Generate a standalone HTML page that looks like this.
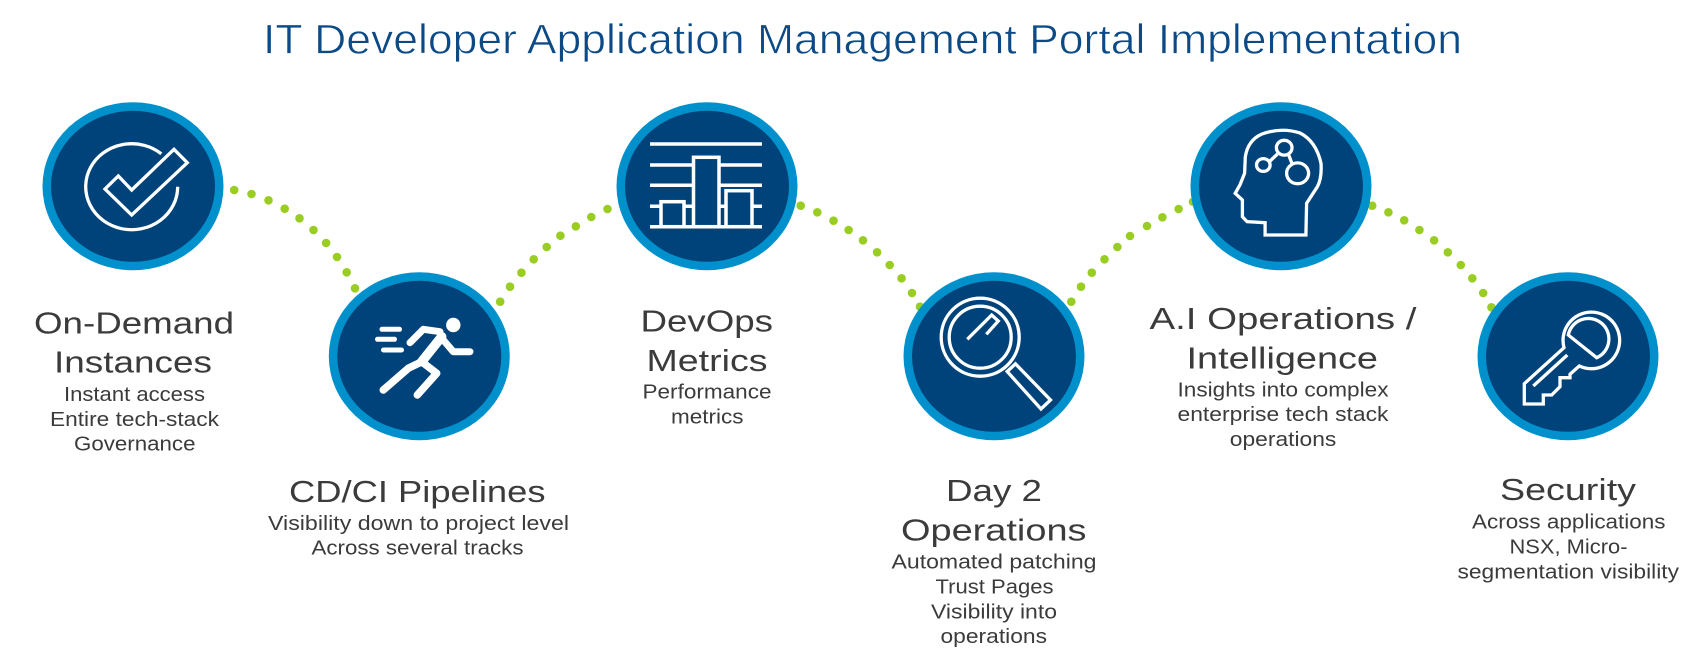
<!DOCTYPE html>
<html>
<head>
<meta charset="utf-8">
<style>
  html, body { margin:0; padding:0; background:#ffffff; }
  body { width:1695px; height:662px; overflow:hidden; }
  svg { display:block; }
  .h { font-family:"Liberation Sans", Arial, sans-serif; font-size:31px; fill:#3b3b3b; }
  .s { font-family:"Liberation Sans", Arial, sans-serif; font-size:20.5px; fill:#3b3b3b; }
  .t { font-family:"Liberation Sans", Arial, sans-serif; font-size:42px; fill:#0b4a86; stroke:#ffffff; stroke-width:0.7; paint-order:normal; }
  .ic { fill:none; stroke:#ffffff; stroke-width:3.3; stroke-linejoin:miter; }
</style>
</head>
<body>
<svg width="1695" height="662" viewBox="0 0 1695 662" xmlns="http://www.w3.org/2000/svg">
  <rect x="0" y="0" width="1695" height="662" fill="#ffffff"/>

  <!-- Title -->
  <text class="t" x="263" y="53.5" textLength="1199" lengthAdjust="spacingAndGlyphs">IT Developer Application Management Portal Implementation</text>

  <!-- Dotted connectors -->
  <g fill="#9acd23">
    <!-- 1-2 -->
    <circle cx="234.2" cy="190" r="4.3"/><circle cx="251.5" cy="194" r="4.3"/><circle cx="268.5" cy="200.3" r="4.3"/>
    <circle cx="284.7" cy="208.7" r="4.3"/><circle cx="299.5" cy="218.3" r="4.3"/><circle cx="313.5" cy="230" r="4.3"/>
    <circle cx="326.1" cy="243" r="4.3"/><circle cx="337" cy="257" r="4.3"/><circle cx="346.7" cy="272.3" r="4.3"/>
    <circle cx="355" cy="288.3" r="4.3"/>
    <!-- 2-3 -->
    <circle cx="500.2" cy="301.7" r="4.3"/><circle cx="510" cy="286.7" r="4.3"/><circle cx="521.4" cy="272.7" r="4.3"/>
    <circle cx="533.7" cy="259.3" r="4.3"/><circle cx="546.7" cy="247" r="4.3"/><circle cx="560.4" cy="235.7" r="4.3"/>
    <circle cx="575.8" cy="226.3" r="4.3"/><circle cx="591.3" cy="217" r="4.3"/><circle cx="607.5" cy="209" r="4.3"/>
    <!-- 3-4 -->
    <circle cx="800.7" cy="205.7" r="4.3"/><circle cx="817.3" cy="212.3" r="4.3"/><circle cx="833.5" cy="220.7" r="4.3"/>
    <circle cx="848.6" cy="230" r="4.3"/><circle cx="863" cy="240.3" r="4.3"/><circle cx="877.1" cy="252.3" r="4.3"/>
    <circle cx="889.7" cy="265" r="4.3"/><circle cx="901.6" cy="278.3" r="4.3"/><circle cx="912" cy="293" r="4.3"/>
    <circle cx="920" cy="306.7" r="4.3"/>
    <!-- 4-5 -->
    <circle cx="1071.3" cy="301.7" r="4.3"/><circle cx="1081" cy="286.7" r="4.3"/><circle cx="1091.8" cy="272.7" r="4.3"/>
    <circle cx="1104.5" cy="259.3" r="4.3"/><circle cx="1117.4" cy="247" r="4.3"/><circle cx="1130" cy="236" r="4.3"/>
    <circle cx="1147" cy="226" r="4.3"/><circle cx="1162.4" cy="217.3" r="4.3"/><circle cx="1178.6" cy="209" r="4.3"/>
    <circle cx="1193" cy="201.7" r="4.3"/>
    <!-- 5-6 -->
    <circle cx="1372.2" cy="205.7" r="4.3"/><circle cx="1388.4" cy="212.3" r="4.3"/><circle cx="1404.2" cy="220.3" r="4.3"/>
    <circle cx="1419.4" cy="230" r="4.3"/><circle cx="1434.1" cy="240.3" r="4.3"/><circle cx="1447.8" cy="252.3" r="4.3"/>
    <circle cx="1460.8" cy="265" r="4.3"/><circle cx="1472.3" cy="278.3" r="4.3"/><circle cx="1483.2" cy="293" r="4.3"/>
    <circle cx="1491.4" cy="307.3" r="4.3"/>
  </g>

  <!-- Circles -->
  <g>
    <ellipse cx="133" cy="186.3" rx="90.5" ry="84" fill="#0091cc"/>
    <ellipse cx="133" cy="186.3" rx="82" ry="75.5" fill="#00437a"/>
    <ellipse cx="419.3" cy="356.3" rx="90.5" ry="84" fill="#0091cc"/>
    <ellipse cx="419.3" cy="356.3" rx="82" ry="75.5" fill="#00437a"/>
    <ellipse cx="707" cy="186.3" rx="90.5" ry="84" fill="#0091cc"/>
    <ellipse cx="707" cy="186.3" rx="82" ry="75.5" fill="#00437a"/>
    <ellipse cx="994" cy="356.3" rx="90.5" ry="84" fill="#0091cc"/>
    <ellipse cx="994" cy="356.3" rx="82" ry="75.5" fill="#00437a"/>
    <ellipse cx="1281" cy="186.3" rx="90.5" ry="84" fill="#0091cc"/>
    <ellipse cx="1281" cy="186.3" rx="82" ry="75.5" fill="#00437a"/>
    <ellipse cx="1568" cy="356.3" rx="90.5" ry="84" fill="#0091cc"/>
    <ellipse cx="1568" cy="356.3" rx="82" ry="75.5" fill="#00437a"/>
  </g>

  <!-- Icon 1: check in circle -->
  <g class="ic">
    <path d="M177.7,186.7 A46,43 0 1 1 161.3,153.8"/>
    <polygon points="105,189 118.3,176 131.7,190 174,149.3 187.3,162.7 131.7,215"/>
  </g>

  <!-- Icon 2: runner -->
  <g stroke="#ffffff" stroke-linecap="round" stroke-linejoin="round" fill="none">
    <line x1="382" y1="329.3" x2="399.5" y2="329.3" stroke-width="5"/>
    <line x1="377.5" y1="339.3" x2="394.5" y2="339.3" stroke-width="5"/>
    <line x1="383.5" y1="350" x2="401.5" y2="350" stroke-width="5"/>
    <polyline points="410,342.7 423.3,329.3 440,331.7" stroke-width="7"/>
    <line x1="441.7" y1="336.7" x2="421.7" y2="361.7" stroke-width="9.5"/>
    <polyline points="443.3,340 453.3,351.7 470,351.7" stroke-width="7"/>
    <polyline points="421.7,361.7 408.3,368.3 383.3,390" stroke-width="7.5"/>
    <polyline points="421.7,361.7 436.7,373.3 417.3,395" stroke-width="7.5"/>
  </g>
  <circle cx="453.3" cy="325" r="7.2" fill="#ffffff"/>

  <!-- Icon 3: bar chart -->
  <g stroke="#ffffff" stroke-width="3.5" fill="none">
    <line x1="650" y1="144" x2="762" y2="144"/>
    <line x1="650" y1="165" x2="762" y2="165"/>
    <line x1="650" y1="185.3" x2="762" y2="185.3"/>
    <line x1="650" y1="206.3" x2="762" y2="206.3"/>
    <line x1="650" y1="226.7" x2="762" y2="226.7"/>
  </g>
  <g stroke="#ffffff" stroke-width="3.5" fill="#00437a">
    <rect x="661" y="201.7" width="23" height="25"/>
    <rect x="693.5" y="157.3" width="25.5" height="69.4"/>
    <rect x="726" y="190.7" width="26" height="36"/>
  </g>

  <!-- Icon 4: magnifier -->
  <g class="ic">
    <circle cx="980.2" cy="337.2" r="39"/>
    <circle cx="980.2" cy="337.2" r="31"/>
    <polyline points="967.3,339.3 991.7,315 998.3,321 986.3,334.3"/>
    <polygon points="1007.2,371.5 1015.5,363.8 1050.5,400 1041,409"/>
  </g>

  <!-- Icon 5: head -->
  <g class="ic">
    <path d="M1265.1,235 L1265.1,222.7 L1247.1,221.7 L1242.4,216.7 L1242.4,200 L1235.2,193.3 L1239.9,185 L1244.6,173.3 L1245.3,156.7 Q1248,140 1262,134 Q1281.4,127 1300,133 Q1316,141 1321,163.3 Q1322,178 1317.4,186.7 L1306.6,203.3 L1305.9,235 Z"/>
    <ellipse cx="1263.3" cy="165" rx="6.8" ry="6.4"/>
    <ellipse cx="1284.2" cy="147.7" rx="7.8" ry="7.4"/>
    <ellipse cx="1297.6" cy="173.3" rx="11" ry="10.4"/>
    <line x1="1269.5" y1="161.5" x2="1277.5" y2="154"/>
    <line x1="1288.5" y1="154.5" x2="1292" y2="163.5"/>
  </g>

  <!-- Icon 6: key -->
  <g class="ic">
    <path d="M1564,347.7 L1524.3,383.7 L1524.3,404 L1543.3,404 L1543.3,395 L1551.7,395 L1560,386.7 L1560,377.7 L1570,377.7 L1570,374.3 L1579.3,366 A28.3,28.3 0 1 0 1564,347.7 Z"/>
    <path d="M1568.3,335 A20.5,20.5 0 1 1 1596.7,357.7 Z"/>
    <line x1="1533.3" y1="386" x2="1567.3" y2="355"/>
  </g>

  <!-- Labels column 1 -->
  <text class="h" x="34" y="333.4" textLength="200" lengthAdjust="spacingAndGlyphs">On-Demand</text>
  <text class="h" x="54" y="372.7" textLength="158" lengthAdjust="spacingAndGlyphs">Instances</text>
  <text class="s" x="64" y="401" textLength="141" lengthAdjust="spacingAndGlyphs">Instant access</text>
  <text class="s" x="50" y="426" textLength="169" lengthAdjust="spacingAndGlyphs">Entire tech-stack</text>
  <text class="s" x="74" y="450.3" textLength="121.5" lengthAdjust="spacingAndGlyphs">Governance</text>

  <!-- Column 2 -->
  <text class="h" x="289" y="502" textLength="256.5" lengthAdjust="spacingAndGlyphs">CD/CI Pipelines</text>
  <text class="s" x="268" y="530" textLength="301" lengthAdjust="spacingAndGlyphs">Visibility down to project level</text>
  <text class="s" x="311.5" y="554.3" textLength="212" lengthAdjust="spacingAndGlyphs">Across several tracks</text>

  <!-- Column 3 -->
  <text class="h" x="640.5" y="331.7" textLength="132.5" lengthAdjust="spacingAndGlyphs">DevOps</text>
  <text class="h" x="646.5" y="371" textLength="121" lengthAdjust="spacingAndGlyphs">Metrics</text>
  <text class="s" x="642.5" y="398.7" textLength="129" lengthAdjust="spacingAndGlyphs">Performance</text>
  <text class="s" x="671" y="423.3" textLength="72.5" lengthAdjust="spacingAndGlyphs">metrics</text>

  <!-- Column 4 -->
  <text class="h" x="946" y="501" textLength="96" lengthAdjust="spacingAndGlyphs">Day 2</text>
  <text class="h" x="901" y="540.3" textLength="185.5" lengthAdjust="spacingAndGlyphs">Operations</text>
  <text class="s" x="891.5" y="568.7" textLength="205" lengthAdjust="spacingAndGlyphs">Automated patching</text>
  <text class="s" x="935.5" y="593.3" textLength="118" lengthAdjust="spacingAndGlyphs">Trust Pages</text>
  <text class="s" x="931" y="618.3" textLength="126" lengthAdjust="spacingAndGlyphs">Visibility into</text>
  <text class="s" x="940.5" y="643" textLength="106.5" lengthAdjust="spacingAndGlyphs">operations</text>

  <!-- Column 5 -->
  <text class="h" x="1149.5" y="329" textLength="267" lengthAdjust="spacingAndGlyphs">A.I Operations /</text>
  <text class="h" x="1186.5" y="368.3" textLength="191.5" lengthAdjust="spacingAndGlyphs">Intelligence</text>
  <text class="s" x="1177.5" y="396.7" textLength="211" lengthAdjust="spacingAndGlyphs">Insights into complex</text>
  <text class="s" x="1177.5" y="421" textLength="211" lengthAdjust="spacingAndGlyphs">enterprise tech stack</text>
  <text class="s" x="1229.8" y="446" textLength="106.5" lengthAdjust="spacingAndGlyphs">operations</text>

  <!-- Column 6 -->
  <text class="h" x="1500" y="500" textLength="136" lengthAdjust="spacingAndGlyphs">Security</text>
  <text class="s" x="1472" y="528.3" textLength="193.5" lengthAdjust="spacingAndGlyphs">Across applications</text>
  <text class="s" x="1509.5" y="553.3" textLength="118" lengthAdjust="spacingAndGlyphs">NSX, Micro-</text>
  <text class="s" x="1457.5" y="578.3" textLength="221.5" lengthAdjust="spacingAndGlyphs">segmentation visibility</text>
</svg>
</body>
</html>
